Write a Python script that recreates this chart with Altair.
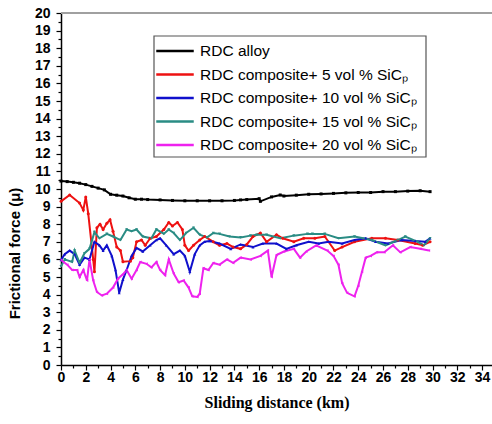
import altair as alt
import pandas as pd

# ---------------- data ----------------
labels = [
    "RDC alloy",
    "RDC composite+ 5 vol % SiCₚ",
    "RDC composite+ 10 vol % SiCₚ",
    "RDC composite+ 15 vol % SiCₚ",
    "RDC composite+ 20 vol % SiCₚ",
]
colors = ["#000000", "#ee1111", "#1010cc", "#2a8c84", "#ee22ee"]
shapes = ["square", "circle", "triangle-up", "triangle-down", "triangle-left"]

alloy_x = [0, 0.5, 1, 1.5, 2, 2.5, 3, 3.5, 4, 4.5, 5, 5.5, 6, 6.5, 7, 8, 9, 10, 11, 12, 13, 14, 14.5,
           15, 16, 16.1, 17, 17.7, 18, 19, 20, 21, 22, 23, 24, 25, 26, 27, 28, 29, 29.8]
alloy_y = [10.45, 10.42, 10.38, 10.33, 10.25, 10.15, 10.05, 9.95, 9.7, 9.65, 9.6, 9.5, 9.42, 9.42, 9.4,
           9.38, 9.35, 9.33, 9.33, 9.33, 9.33, 9.35, 9.38, 9.4, 9.45, 9.3, 9.55, 9.66, 9.6, 9.65, 9.7,
           9.72, 9.75, 9.78, 9.8, 9.8, 9.85, 9.85, 9.88, 9.9, 9.85]

c5_x = [0, 0.7, 1.5, 1.8, 2.0, 2.2, 2.6, 2.7, 2.9, 3.15, 3.4, 3.7, 3.96, 4.2, 4.5, 4.8, 5.0, 5.6, 5.8,
        6.1, 6.5, 6.8, 7.2, 7.7, 8.3, 8.7, 9.0, 9.4, 9.8, 10.0, 10.3, 10.7, 11.2, 11.6, 12.3, 12.8,
        13.4, 13.9, 14.5, 15.0, 15.5, 16.1, 16.6, 17.4, 17.9, 18.8, 19.6, 20.5, 21.3, 22.1, 22.7,
        23.7, 25.1, 26.2, 27.2, 28.6, 29.2, 29.8]
c5_y = [9.3, 9.66, 9.2, 8.8, 9.55, 8.6, 6.0, 5.3, 7.8, 8.0, 7.7, 8.05, 8.25, 7.6, 6.7, 6.5, 5.87,
        5.9, 6.1, 7.0, 7.1, 6.8, 7.2, 7.3, 7.7, 8.1, 7.9, 8.1, 7.7, 6.8, 6.5, 6.8, 7.1, 7.3, 7.0,
        6.8, 6.9, 6.7, 6.6, 6.85, 7.3, 7.5, 7.0, 7.4, 7.2, 7.0, 7.2, 7.2, 7.3, 6.5, 6.7, 7.0, 7.2,
        7.2, 7.1, 6.9, 6.8, 7.0]

c10_x = [0, 0.3, 0.7, 1.1, 1.5, 1.9, 2.3, 2.7, 3.1, 3.4, 3.7, 4.1, 4.4, 4.7, 5.0, 5.3, 5.7, 6.1,
         6.6, 7.2, 7.7, 8.0, 8.5, 9.1, 9.6, 10.0, 10.4, 10.8, 11.2, 11.6, 12.0, 12.8, 13.7, 14.5,
         15.5, 16.3, 17.4, 18.2, 19.0, 20.0, 20.8, 21.6, 22.7, 23.7, 24.6, 25.4, 26.4, 27.5, 28.6,
         29.4, 29.8]
c10_y = [5.97, 6.3, 6.5, 6.3, 5.7, 6.1, 6.0, 7.0, 6.8, 6.5, 6.8, 6.2, 5.4, 4.1, 4.85, 5.4, 6.2,
         6.65, 6.45, 6.8, 7.1, 7.2, 6.8, 6.3, 6.5, 6.2, 5.3, 6.3, 6.8, 7.0, 7.05, 6.9, 6.6, 6.85,
         6.7, 6.9, 6.9, 6.6, 6.8, 7.0, 6.9, 7.0, 6.9, 7.1, 7.2, 7.0, 6.9, 7.1, 7.05, 7.0, 7.2]

c15_x = [0, 0.3, 0.9, 1.1, 1.5, 1.9, 2.3, 2.7, 3.1, 3.7, 4.2, 4.8, 5.3, 5.7, 6.1, 6.6, 7.3, 7.7,
         8.3, 8.7, 9.1, 9.6, 10.1, 10.7, 11.2, 11.8, 12.3, 12.8, 13.6, 14.5, 15.3, 15.8, 16.6,
         17.7, 18.8, 19.9, 20.3, 21.3, 22.4, 23.7, 25.1, 26.2, 27.2, 27.8, 28.8, 29.3, 29.8]
c15_y = [5.6, 6.0, 5.85, 6.5, 5.8, 6.35, 6.6, 7.55, 7.2, 7.45, 7.3, 7.1, 7.7, 7.6, 7.7, 7.3, 7.2,
         7.7, 7.45, 7.7, 7.5, 7.1, 7.5, 7.8, 7.4, 7.25, 7.5, 7.45, 7.3, 7.25, 7.35, 7.4, 7.4, 7.2,
         7.35, 7.45, 7.45, 7.45, 7.2, 7.3, 7.1, 6.8, 7.1, 7.3, 7.0, 6.8, 7.2]

c20_x = [0, 0.5, 0.9, 1.3, 1.5, 1.8, 2.1, 2.3, 2.6, 2.9, 3.3, 3.7, 4.2, 4.6, 5.0, 5.3, 5.7, 6.1,
         6.4, 6.9, 7.3, 7.7, 8.0, 8.4, 8.7, 9.1, 9.5, 9.9, 10.3, 10.6, 11.0, 11.2, 11.5, 11.9,
         12.3, 12.8, 13.4, 13.9, 14.5, 15.3, 16.1, 16.7, 17.0, 17.4, 18.0, 18.8, 19.3, 19.8, 20.6,
         21.5, 22.0, 22.4, 22.7, 23.1, 23.7, 24.0, 24.3, 24.6, 25.0, 25.5, 26.1, 26.8, 27.4, 28.2,
         29.0, 29.7]
c20_y = [5.97, 5.7, 5.4, 5.4, 5.0, 5.4, 4.8, 6.0, 4.8, 4.15, 3.95, 4.05, 4.4, 4.9, 5.15, 5.4, 4.9,
         5.4, 5.85, 5.75, 5.55, 5.85, 5.4, 5.1, 6.0, 5.2, 4.7, 4.8, 4.4, 3.9, 3.87, 4.05, 5.5, 5.4,
         5.8, 5.7, 6.0, 5.8, 6.1, 6.0, 6.2, 6.5, 5.0, 6.25, 6.45, 6.6, 6.1, 6.45, 6.8, 6.5, 6.2,
         5.7, 4.65, 4.1, 3.9, 4.5, 5.3, 6.1, 6.2, 6.4, 6.4, 6.8, 6.4, 6.7, 6.6, 6.5]

x_ticks = list(range(0, 35))
y_ticks = [i / 2 for i in range(0, 41)]

series = [(alloy_x, alloy_y), (c5_x, c5_y), (c10_x, c10_y), (c15_x, c15_y), (c20_x, c20_y)]
rows = []
for lab, (xs, ys) in zip(labels, series):
    for i, (xv, yv) in enumerate(zip(xs, ys)):
        rows.append({"series": lab, "x": xv, "y": yv, "order": i})
df = pd.DataFrame(rows)

# ---------------- chart ----------------
xscale = alt.Scale(domain=[0, 34.8], nice=False, zero=False)
yscale = alt.Scale(domain=[0, 20], nice=False)

x_axis = alt.Axis(
    values=x_ticks, title="Sliding distance (km)",
    labelExpr="datum.value % 2 == 0 ? format(datum.value, 'd') : ''",
    tickSize={"condition": {"test": "datum.value % 2 == 0", "value": 5}, "value": 3},
    labelFont="Liberation Sans", labelFontWeight="bold", labelFontSize=14, labelColor="black",
    labelPadding=0, labelFlush=False,
    titleFont="Liberation Serif", titleFontWeight="bold", titleFontSize=16, titleColor="black",
    titlePadding=10,
    domainColor="black", domainWidth=1.5, tickColor="black", tickWidth=1.2, grid=False,
)
y_axis = alt.Axis(
    values=y_ticks, title="Frictional force (μ)",
    labelExpr="datum.value % 1 == 0 ? format(datum.value, 'd') : ''",
    tickSize={"condition": {"test": "datum.value % 1 == 0", "value": 5}, "value": 3},
    labelFont="Liberation Sans", labelFontWeight="bold", labelFontSize=14, labelColor="black",
    labelPadding=6, labelFlush=False,
    titleFont="Liberation Sans", titleFontWeight="bold", titleFontSize=15, titleColor="black",
    titleX=-39, titleY=240,
    domainColor="black", domainWidth=1.5, tickColor="black", tickWidth=1.2, grid=False,
)

def xe():
    return alt.X("x:Q", scale=xscale, axis=x_axis)

def ye():
    return alt.Y("y:Q", scale=yscale, axis=y_axis)

color_enc = alt.Color(
    "series:N", sort=labels,
    scale=alt.Scale(domain=labels, range=colors),
    legend=alt.Legend(
        title=None, orient="none", legendX=99, legendY=23,
        symbolType="M-2.5,0H2.5", symbolSize=225, symbolStrokeWidth=2.5,
        labelFont="Liberation Sans", labelFontSize=15.5, labelColor="black",
        labelOffset=16, rowPadding=5.5, padding=6,
        labelLimit=400,
    ),
)

# legend frame (decoration, pixel placement inside the plot area)
frame = alt.Chart(pd.DataFrame({"k": [0]})).mark_rect(
    fill="white", stroke="#555555", strokeWidth=1.2
).encode(
    x=alt.value(93), x2=alt.value(365), y=alt.value(23), y2=alt.value(144)
)

top = alt.Chart(pd.DataFrame({"y": [20]})).mark_rule(color="#a0a0a0", strokeWidth=2).encode(
    y=ye()
)

lines = alt.Chart(df).mark_line(strokeWidth=2).encode(
    x=xe(), y=ye(), color=color_enc, order="order:Q", detail="series:N"
)

point_layers = []
for lab, col, shp in zip(labels, colors, shapes):
    point_layers.append(
        alt.Chart(df)
        .transform_filter(alt.datum.series == lab)
        .mark_point(filled=True, size=9, opacity=1, shape=shp, color=col)
        .encode(x=xe(), y=ye())
    )

chart = (
    alt.layer(top, lines, *point_layers, frame)
    .properties(
        width=431, height=352,
        autosize=alt.AutoSizeParams(type="none"),
        padding={"left": 61, "top": 13, "right": 0, "bottom": 59},
        background="white",
    )
    .configure_view(stroke=None)
)

chart.save("out.html", embed_options={"renderer": "svg", "actions": False})
